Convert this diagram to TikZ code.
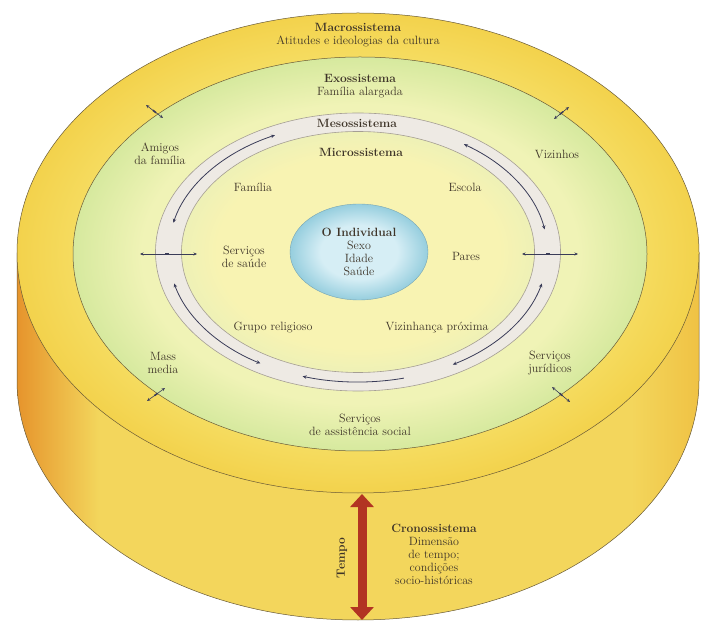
\documentclass[tikz,border=0pt]{standalone}
\usepackage{tikz}
\usetikzlibrary{arrows.meta,shapes.geometric}

\definecolor{sideL}{RGB}{230,148,44}
\definecolor{sideM}{RGB}{243,214,92}
\definecolor{sideR}{RGB}{240,194,68}
\definecolor{macroin}{RGB}{247,228,112}
\definecolor{macroout}{RGB}{243,210,76}
\definecolor{exoin}{RGB}{240,243,182}
\definecolor{exoout}{RGB}{214,233,158}
\definecolor{microin}{RGB}{248,243,178}
\definecolor{microout}{RGB}{238,241,182}
\definecolor{mesofill}{RGB}{238,234,228}
\definecolor{mesoline}{RGB}{165,158,148}
\definecolor{indin}{RGB}{214,238,245}
\definecolor{indout}{RGB}{150,206,222}
\definecolor{outlinecol}{RGB}{105,90,55}
\definecolor{tempored}{RGB}{178,52,34}
\definecolor{arrowcol}{RGB}{58,60,88}
\definecolor{txtcol}{RGB}{62,52,40}

\pgfdeclarehorizontalshading{sideshade}{100bp}{color(0bp)=(sideL); color(25bp)=(sideL); color(31bp)=(sideM); color(70bp)=(sideM); color(75bp)=(sideR); color(100bp)=(sideR)}
\pgfdeclareradialshading{macroshade}{\pgfpoint{0bp}{0bp}}{color(0bp)=(macroin); color(17bp)=(macroin); color(25bp)=(macroout); color(50bp)=(macroout)}
\pgfdeclareradialshading{exoshade}{\pgfpoint{0bp}{0bp}}{color(0bp)=(exoin); color(19bp)=(exoin); color(25bp)=(exoout); color(50bp)=(exoout)}
\pgfdeclareradialshading{microshade}{\pgfpoint{0bp}{0bp}}{color(0bp)=(microin); color(20bp)=(microin); color(25bp)=(microout); color(50bp)=(microout)}
\pgfdeclareradialshading{indivshade}{\pgfpoint{0bp}{0bp}}{color(0bp)=(indin); color(14bp)=(indin); color(25bp)=(indout); color(50bp)=(indout)}

\tikzset{
  lbl/.style={align=center, text=txtcol, inner sep=0pt, font=\fontsize{12}{13}\selectfont},
  ringarrow/.style={draw=arrowcol, line width=0.8pt, {Stealth[length=4pt,width=3.5pt]}-{Stealth[length=4pt,width=3.5pt]}},
  xarrow/.style={draw=arrowcol, line width=0.6pt, {Stealth[length=3.5pt,width=3pt]}-{Stealth[length=3.5pt,width=3pt]}},
  tick/.style={sloped, fill=arrowcol, inner sep=0pt, minimum width=4pt, minimum height=1.6pt},
  tempoarrow/.style={draw=tempored, line width=9pt, {Triangle[length=13pt,width=23pt]}-{Triangle[length=13pt,width=23pt]}}
}

\begin{document}
\begin{tikzpicture}[x=1pt,y=1pt]
  \useasboundingbox[fill=white] (0,0) rectangle (701,624);

  \shade[shading=sideshade, draw=outlinecol, line width=0.5pt] (17,371) -- (17,244) arc[start angle=180, end angle=360, x radius=341, y radius=240] -- (699,371) -- cycle;
  \shade[shading=macroshade, draw=outlinecol, line width=0.5pt] (358,371) ellipse[x radius=341, y radius=240];
  \shade[shading=exoshade, draw=outlinecol, line width=0.5pt] (360,370) ellipse[x radius=287, y radius=197];
  \filldraw[fill=mesofill, draw=mesoline, line width=0.6pt] (358,372) ellipse[x radius=202.5, y radius=139];
  \shade[shading=microshade, draw=mesoline, line width=0.6pt] (358,372) ellipse[x radius=176.5, y radius=120.5];

  \node[ellipse, shade, shading=indivshade, draw=indout!80!black, line width=0.4pt, minimum width=138pt, minimum height=96pt, inner sep=0pt] (indiv) at (359,372) {};
  \node[lbl] (indivtxt) at (indiv.center) {\textbf{O Individual}\\Sexo\\Idade\\Saúde};

  \node[lbl] (macro) at (358,589) {\textbf{Macrossistema}\\Atitudes e ideologias da cultura};
  \node[lbl] (exo) at (360,538) {\textbf{Exossistema}\\Família alargada};
  \node[lbl] (meso) at (357,501) {\textbf{Mesossistema}};
  \node[lbl] (micro) at (361,472) {\textbf{Microssistema}};

  \node[lbl] (familia) at (253,437) {Família};
  \node[lbl] (escola) at (465,437) {Escola};
  \node[lbl] (saude) at (244,367) {Serviços\\de saúde};
  \node[lbl] (pares) at (466,368) {Pares};
  \node[lbl] (religioso) at (273,296) {Grupo religioso};
  \node[lbl] (vizprox) at (437,296) {Vizinhança próxima};

  \node[lbl] (amigos) at (160,470) {Amigos\\da família};
  \node[lbl] (vizinhos) at (557,470) {Vizinhos};
  \node[lbl] (massmedia) at (163,261) {Mass\\media};
  \node[lbl] (juridicos) at (550,261) {Serviços\\jurídicos};
  \node[lbl] (social) at (360,199) {Serviços\\de assistência social};

  \coordinate (ring) at (358,372);
  \draw[ringarrow] ([shift={(116:189.5 and 130)}]ring) arc[start angle=116, end angle=167, x radius=189.5, y radius=130];
  \draw[ringarrow] ([shift={(56:189.5 and 130)}]ring) arc[start angle=56, end angle=10, x radius=189.5, y radius=130];
  \draw[ringarrow] ([shift={(194:189.5 and 130)}]ring) arc[start angle=194, end angle=239, x radius=189.5, y radius=130];
  \draw[ringarrow] ([shift={(346:189.5 and 130)}]ring) arc[start angle=346, end angle=300, x radius=189.5, y radius=130];
  \draw[ringarrow, {-Stealth[length=4pt,width=3.5pt]}] ([shift={(284:189.5 and 130)}]ring) arc[start angle=284, end angle=253, x radius=189.5, y radius=130];

  \coordinate (ml1) at (140,370);
  \coordinate (ml2) at (197,370);
  \coordinate (mr1) at (522,370);
  \coordinate (mr2) at (578,370);
  \draw[xarrow] (ml1) -- node[tick, pos=0.47] {} (ml2);
  \draw[xarrow] (mr1) -- node[tick, pos=0.47] {} (mr2);

  \coordinate (ul1) at (146,519);
  \coordinate (ul2) at (163,506);
  \coordinate (ur1) at (554,505);
  \coordinate (ur2) at (569,517);
  \coordinate (ll1) at (147,223);
  \coordinate (ll2) at (165,236);
  \coordinate (lr1) at (552,237);
  \coordinate (lr2) at (570,222);
  \draw[xarrow] (ul1) -- node[tick] {} (ul2);
  \draw[xarrow] (ur1) -- node[tick] {} (ur2);
  \draw[xarrow] (ll1) -- node[tick] {} (ll2);
  \draw[xarrow] (lr1) -- node[tick] {} (lr2);

  \coordinate (tTop) at (362,130);
  \coordinate (tBot) at (362,4);
  \draw[tempoarrow] (tTop) -- (tBot);
  \node[lbl, rotate=90] (tempo) at (342,66) {\textbf{Tempo}};
  \node[lbl] (crono) at (434,70) {\textbf{Cronossistema}\\Dimensão\\de tempo;\\condições\\socio-históricas};
\end{tikzpicture}
\end{document}
